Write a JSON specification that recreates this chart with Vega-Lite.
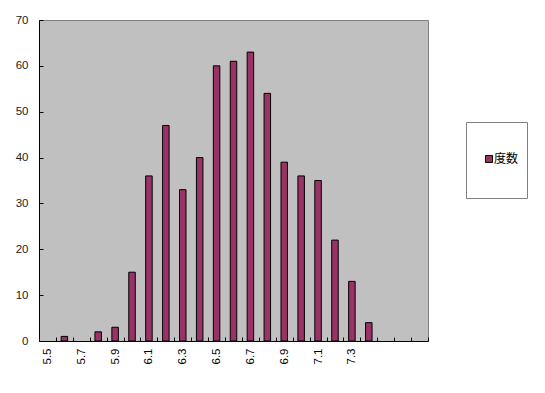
{
  "$schema": "https://vega.github.io/schema/vega-lite/v6.json",
  "autosize": "none",
  "width": 389,
  "height": 321,
  "padding": {"left": 39, "top": 20, "right": 117, "bottom": 52},
  "background": "#ffffff",
  "data": {
    "values": [
      {"bin": "5.5", "count": 0},
      {"bin": "5.6", "count": 1},
      {"bin": "5.7", "count": 0},
      {"bin": "5.8", "count": 2},
      {"bin": "5.9", "count": 3},
      {"bin": "6.0", "count": 15},
      {"bin": "6.1", "count": 36},
      {"bin": "6.2", "count": 47},
      {"bin": "6.3", "count": 33},
      {"bin": "6.4", "count": 40},
      {"bin": "6.5", "count": 60},
      {"bin": "6.6", "count": 61},
      {"bin": "6.7", "count": 63},
      {"bin": "6.8", "count": 54},
      {"bin": "6.9", "count": 39},
      {"bin": "7.0", "count": 36},
      {"bin": "7.1", "count": 35},
      {"bin": "7.2", "count": 22},
      {"bin": "7.3", "count": 13},
      {"bin": "7.4", "count": 4},
      {"bin": "7.5", "count": 0},
      {"bin": "7.6", "count": 0},
      {"bin": "7.7", "count": 0}
    ]
  },
  "transform": [{"filter": "datum.count > 0"}],
  "mark": {"type": "bar", "size": 6.5, "stroke": "#000000", "strokeWidth": 1},
  "encoding": {
    "x": {
      "field": "bin",
      "type": "ordinal",
      "sort": null,
      "scale": {
        "domain": ["5.5","5.6","5.7","5.8","5.9","6.0","6.1","6.2","6.3","6.4","6.5","6.6","6.7","6.8","6.9","7.0","7.1","7.2","7.3","7.4","7.5","7.6","7.7"],
        "paddingInner": 0, "paddingOuter": 0
      },
      "axis": {
        "title": null,
        "labelAngle": -90,
        "labelExpr": "indexof(['5.5','5.7','5.9','6.1','6.3','6.5','6.7','6.9','7.1','7.3'], datum.label) >= 0 ? datum.label : ''",
        "tickBand": "extent",
        "tickSize": -4,
        "labelPadding": 11,
        "labelFont": "Liberation Sans",
        "labelFontSize": 11.5,
        "labelColor": "#000000",
        "domainColor": "#000000",
        "tickColor": "#000000"
      }
    },
    "y": {
      "field": "count",
      "type": "quantitative",
      "scale": {"domain": [0, 70], "nice": false},
      "axis": {
        "title": null,
        "values": [0, 10, 20, 30, 40, 50, 60, 70],
        "grid": false,
        "tickSize": -4,
        "labelPadding": 15,
        "labelFont": "Liberation Sans",
        "labelFontSize": 11.5,
        "labelColor": "#222222",
        "domainColor": "#000000",
        "tickColor": "#000000"
      }
    },
    "color": {
      "datum": "度数",
      "type": "nominal",
      "scale": {"range": ["#993366"]},
      "legend": {
        "title": null,
        "orient": "none",
        "legendX": 427,
        "legendY": 102,
        "fillColor": "#ffffff",
        "strokeColor": "#808080",
        "padding": 8,
        "symbolType": "M-0.123,-0.123H0.123V0.123H-0.123Z M0,-1L0,-1 M0,1L0,1",
        "symbolSize": 3249,
        "symbolStrokeColor": "#000000",
        "symbolStrokeWidth": 1,
        "symbolOffset": -14,
        "labelFont": "Noto Sans CJK JP",
        "labelFontSize": 12,
        "labelColor": "#000000",
        "labelOffset": -24
      }
    }
  },
  "config": {
    "view": {"fill": "#c0c0c0", "stroke": "#808080", "strokeWidth": 1}
  }
}
